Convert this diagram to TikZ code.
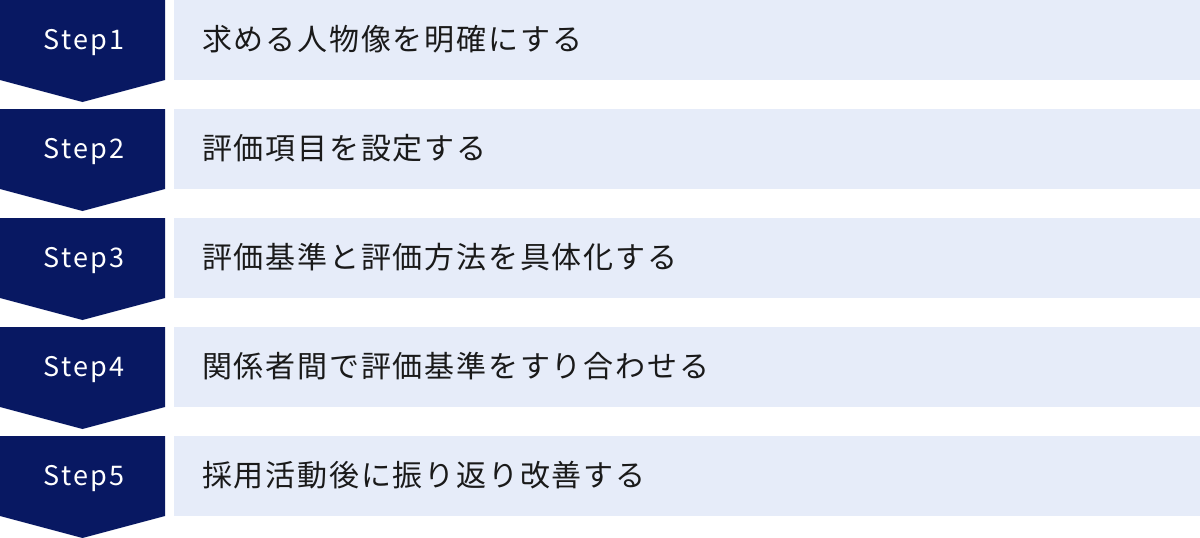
\documentclass[tikz,border=0pt]{standalone}
\usepackage{fontspec}
\setmainfont{Noto Sans CJK JP}
\definecolor{navy}{RGB}{8,24,98}
\definecolor{lightbox}{RGB}{230,236,249}
\definecolor{textdark}{RGB}{26,26,26}
\begin{document}
\begin{tikzpicture}[x=1pt,y=-1pt,
  steplabel/.style={text=white,font=\fontsize{27}{30}\selectfont\addfontfeature{LetterSpace=8},anchor=base,inner sep=0},
  itemtext/.style={text=textdark,font=\fontsize{30}{34}\selectfont\addfontfeature{LetterSpace=6},anchor=base west,inner sep=0}]
\useasboundingbox (0,0) rectangle (1200,538);
\foreach \i/\t in {1/求める人物像を明確にする,2/評価項目を設定する,3/評価基準と評価方法を具体化する,4/関係者間で評価基準をすり合わせる,5/採用活動後に振り返り改善する}{
  \pgfmathsetmacro{\yy}{(\i-1)*109}
  \fill[navy] (0,\yy) -- (165,\yy) -- (165,\yy+80) -- (82.5,\yy+102) -- (0,\yy+80) -- cycle;
  \fill[lightbox] (174,\yy) rectangle (1200,\yy+80);
  \node[steplabel] (s\i) at (84,\yy+49) {Step\i};
  \node[itemtext] (t\i) at (202,\yy+50) {\t};
}
\end{tikzpicture}
\end{document}
